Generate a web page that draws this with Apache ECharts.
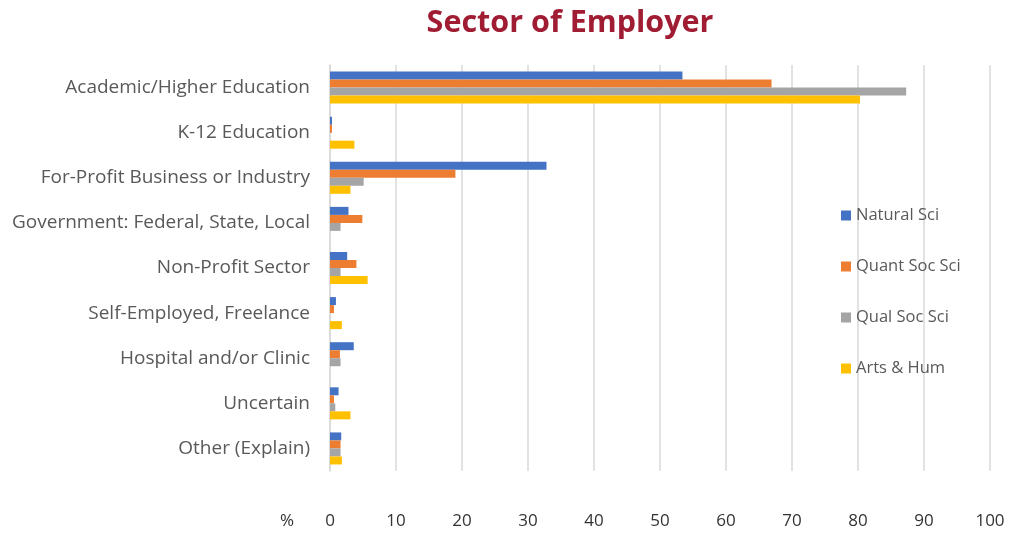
<!DOCTYPE html>
<html>
<head>
<meta charset="utf-8">
<script src="https://cdn.jsdelivr.net/npm/echarts@6/dist/echarts.min.js"></script>
<style>
  html, body { margin: 0; padding: 0; background: #ffffff; }
  #chart { width: 1011px; height: 533px; }
</style>
</head>
<body>
<div id="chart"></div>
<script>
// Sectors, listed top to bottom
const sectors = [
  'Academic/Higher Education',
  'K-12 Education',
  'For-Profit Business or Industry',
  'Government: Federal, State, Local',
  'Non-Profit Sector',
  'Self-Employed, Freelance',
  'Hospital and/or Clinic',
  'Uncertain',
  'Other (Explain)'
];

// Share of respondents (%) in each sector, by field
const naturalSci  = [53.4, 0.3, 32.8, 2.8, 2.6, 0.9, 3.6, 1.3, 1.7];
const quantSocSci = [66.9, 0.3, 19.0, 4.9, 4.0, 0.6, 1.5, 0.6, 1.6];
const qualSocSci  = [87.3, 0.0,  5.1, 1.6, 1.6, 0.0, 1.6, 0.8, 1.6];
const artsHum     = [80.3, 3.7,  3.1, 0.0, 5.7, 1.8, 0.0, 3.1, 1.8];

const seriesNames = ['Natural Sci', 'Quant Soc Sci', 'Qual Soc Sci', 'Arts & Hum'];
const seriesColors = ['#4472C4', '#ED7D31', '#A5A5A5', '#FFC000'];
const seriesData = [naturalSci, quantSocSci, qualSocSci, artsHum];

const chart = echarts.init(document.getElementById('chart'), null, { renderer: 'canvas' });

const textGray = '#595959';
const labelFont = '"Open Sans", "Noto Sans", sans-serif';

chart.setOption({
  animation: false,
  backgroundColor: '#ffffff',
  title: {
    text: 'Sector of Employer',
    left: 565,
    textAlign: 'center',
    top: 3,
    textStyle: {
      color: '#A01C33',
      fontSize: 30.5,
      fontWeight: 'bold',
      fontFamily: '"Open Sans", Roboto, sans-serif'
    }
  },
  legend: {
    orient: 'vertical',
    left: 836,
    top: 202,
    itemGap: 34,
    itemWidth: 10,
    itemHeight: 10,
    icon: 'rect',
    textStyle: { color: textGray, fontSize: 16.5, fontFamily: labelFont },
    data: seriesNames
  },
  grid: {
    left: 330,
    right: 21,
    top: 65,
    bottom: 62,
    containLabel: false
  },
  xAxis: {
    type: 'value',
    min: 0,
    max: 100,
    interval: 10,
    name: '%',
    nameLocation: 'start',
    nameGap: 36,
    nameTextStyle: {
      color: '#333333',
      fontSize: 17,
      fontFamily: labelFont,
      verticalAlign: 'top',
      padding: [42, 0, 0, 0]
    },
    axisLine: { show: false },
    axisTick: { show: false },
    axisLabel: {
      color: '#333333',
      fontSize: 17,
      margin: 42,
      fontFamily: labelFont
    },
    splitLine: { show: true, lineStyle: { color: '#D9D9D9', width: 1.5 } }
  },
  yAxis: {
    type: 'category',
    inverse: true,
    data: sectors,
    axisLine: { show: true, lineStyle: { color: '#D9D9D9', width: 1.5 } },
    axisTick: { show: false },
    axisLabel: {
      color: textGray,
      fontSize: 19,
      margin: 20,
      fontFamily: labelFont
    }
  },
  series: seriesNames.map((name, i) => ({
    name: name,
    type: 'bar',
    data: seriesData[i],
    barGap: '0%',
    barCategoryGap: '29%',
    itemStyle: { color: seriesColors[i] }
  }))
});
</script>
</body>
</html>
